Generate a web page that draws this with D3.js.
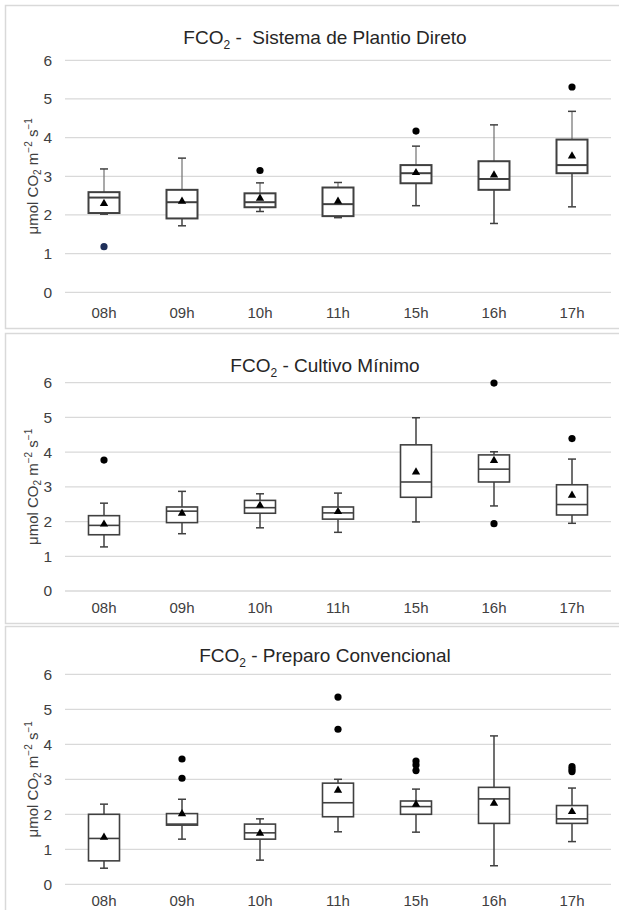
<!DOCTYPE html>
<html>
<head>
<meta charset="utf-8">
<script src="https://cdn.jsdelivr.net/npm/d3@7"></script>
<style>
  body { margin: 0; background: #fff; }
  text { font-family: "Liberation Sans", Arial, sans-serif; }
</style>
</head>
<body>
<script>
// categories
const hours = ['08h', '09h', '10h', '11h', '15h', '16h', '17h']
const yTicks = [0, 1, 2, 3, 4, 5, 6]

// each row: [whisker low, Q1, median, Q3, whisker high, mean]
const spdStats = [
  [2.02, 2.05, 2.45, 2.59, 3.19, 2.28],
  [1.72, 1.91, 2.33, 2.65, 3.47, 2.34],
  [2.09, 2.20, 2.33, 2.56, 2.83, 2.42],
  [1.93, 1.97, 2.28, 2.71, 2.84, 2.34],
  [2.24, 2.82, 3.08, 3.29, 3.78, 3.08],
  [1.78, 2.65, 2.93, 3.39, 4.33, 3.02],
  [2.21, 3.08, 3.29, 3.95, 4.68, 3.51]
]
const spdOutliers = [[1.18], [], [3.15], [], [4.17], [], [5.31]]

const cmStats = [
  [1.27, 1.62, 1.89, 2.17, 2.53, 1.91],
  [1.65, 1.97, 2.30, 2.42, 2.87, 2.22],
  [1.82, 2.24, 2.40, 2.61, 2.80, 2.45],
  [1.69, 2.07, 2.25, 2.42, 2.82, 2.27],
  [1.99, 2.70, 3.14, 4.21, 4.99, 3.41],
  [2.45, 3.14, 3.51, 3.92, 4.01, 3.74],
  [1.95, 2.19, 2.49, 3.06, 3.80, 2.74]
]
const cmOutliers = [[3.77], [], [], [], [], [5.99, 1.94], [4.39]]

const pcStats = [
  [0.46, 0.67, 1.31, 2.00, 2.29, 1.33],
  [1.29, 1.69, 1.72, 2.02, 2.43, 2.00],
  [0.69, 1.29, 1.47, 1.72, 1.87, 1.44],
  [1.50, 1.93, 2.33, 2.89, 3.00, 2.67],
  [1.49, 2.00, 2.22, 2.38, 2.72, 2.27],
  [0.53, 1.74, 2.44, 2.77, 4.24, 2.30],
  [1.22, 1.74, 1.87, 2.25, 2.75, 2.06]
]
const pcOutliers = [[], [3.58, 3.03], [], [5.35, 4.43], [3.52, 3.41, 3.25], [], [3.36, 3.29, 3.22]]

const panels = [
  { name: 'Sistema de Plantio Direto', sep: ' -  ', stats: spdStats, out: spdOutliers,
    top: 5, h: 323, y6: 60.3, y0: 292.3, titleY: 44, labY: 318, thick: 2 },
  { name: 'Cultivo Mínimo', sep: ' - ', stats: cmStats, out: cmOutliers,
    top: 333, h: 290, y6: 382.7, y0: 591, titleY: 372, labY: 613, thick: 1.6 },
  { name: 'Preparo Convencional', sep: ' - ', stats: pcStats, out: pcOutliers,
    top: 626, h: 300, y6: 674.3, y0: 884.3, titleY: 662, labY: 906, thick: 1.6 }
]

const W = 619, H = 910
const svg = d3.select('body').append('svg')
  .attr('width', W).attr('height', H)

const x = d3.scaleBand().domain(hours).range([65, 611])

panels.forEach((p, pi) => {
  const g = svg.append('g')

  // panel frame
  g.append('rect')
    .attr('x', 5.5).attr('y', p.top + 0.5)
    .attr('width', 640).attr('height', p.h)
    .attr('fill', '#fff').attr('stroke', '#d9d9d9').attr('stroke-width', 1.5)

  const y = d3.scaleLinear().domain([0, 6]).range([p.y0, p.y6])

  // gridlines
  g.selectAll('.grid').data(yTicks).enter().append('line')
    .attr('x1', 65).attr('x2', 611)
    .attr('y1', d => y(d)).attr('y2', d => y(d))
    .attr('stroke', '#d9d9d9').attr('stroke-width', 1.3)

  // y axis labels
  const yAxis = d3.axisLeft(y).tickValues(yTicks).tickFormat(d3.format('d')).tickSize(0).tickPadding(8)
  const ya = g.append('g').attr('transform', 'translate(60,0)').call(yAxis)
  ya.select('.domain').remove()
  ya.selectAll('text').attr('font-size', 15.5).attr('fill', '#404040')
    .style('font-family', '"Liberation Sans", Arial, sans-serif')

  // x labels
  g.selectAll('.xl').data(hours).enter().append('text')
    .attr('x', d => x(d) + x.bandwidth() / 2)
    .attr('y', p.labY)
    .attr('text-anchor', 'middle')
    .attr('font-size', 15).attr('fill', '#404040')
    .text(d => d)

  // title
  const t = g.append('text')
    .attr('x', 325).attr('y', p.titleY)
    .attr('text-anchor', 'middle')
    .style('white-space', 'pre')
    .attr('font-size', 19).attr('fill', '#262626')
  t.append('tspan').text('FCO')
  t.append('tspan').attr('font-size', 12).attr('dy', 5).text('2')
  t.append('tspan').attr('dy', -5).text(p.sep + p.name)

  // y axis title
  const yt = g.append('text')
    .attr('transform', `translate(38,${(p.y0 + p.y6) / 2}) rotate(-90)`)
    .attr('text-anchor', 'middle')
    .attr('font-size', 15).attr('fill', '#404040')
  yt.append('tspan').text('μmol CO')
  yt.append('tspan').attr('font-size', 10).attr('dy', 3).text('2')
  yt.append('tspan').attr('dy', -3).text(' m')
  yt.append('tspan').attr('font-size', 10).attr('dy', -6).text('−2')
  yt.append('tspan').attr('dy', 6).text(' s')
  yt.append('tspan').attr('font-size', 10).attr('dy', -6).text('−1')

  const bw = 31, cap = 8
  const boxes = g.selectAll('.box').data(p.stats).enter().append('g')
    .attr('transform', (d, i) => `translate(${x(hours[i]) + x.bandwidth() / 2},0)`)

  const stroke = '#404040'
  // whiskers
  boxes.append('line')
    .attr('x1', 0).attr('x2', 0)
    .attr('y1', d => y(d[3])).attr('y2', d => y(d[4]))
    .attr('stroke', pi === 0 ? '#707070' : stroke).attr('stroke-width', pi === 0 ? 1.2 : 1.5)
  boxes.append('line')
    .attr('x1', -cap / 2).attr('x2', cap / 2)
    .attr('y1', d => y(d[4])).attr('y2', d => y(d[4]))
    .attr('stroke', stroke).attr('stroke-width', 1.5)
  boxes.append('line')
    .attr('x1', 0).attr('x2', 0)
    .attr('y1', d => y(d[1])).attr('y2', d => y(d[0]))
    .attr('stroke', stroke).attr('stroke-width', 1.5)
  boxes.append('line')
    .attr('x1', -cap / 2).attr('x2', cap / 2)
    .attr('y1', d => y(d[0])).attr('y2', d => y(d[0]))
    .attr('stroke', stroke).attr('stroke-width', 1.5)

  // box
  boxes.append('rect')
    .attr('x', -bw / 2).attr('width', bw)
    .attr('y', d => y(d[3])).attr('height', d => y(d[1]) - y(d[3]))
    .attr('fill', '#fff').attr('stroke', stroke).attr('stroke-width', p.thick)
  // median
  boxes.append('line')
    .attr('x1', -bw / 2).attr('x2', bw / 2)
    .attr('y1', d => y(d[2])).attr('y2', d => y(d[2]))
    .attr('stroke', stroke).attr('stroke-width', p.thick)
  // mean
  boxes.append('path')
    .attr('d', d3.symbol().type(d3.symbolTriangle).size(30))
    .attr('transform', d => `translate(0,${y(d[5]) - 0.5})`)
    .attr('fill', '#000')

  // outliers
  boxes.each(function (d, i) {
    d3.select(this).selectAll('circle').data(p.out[i]).enter().append('circle')
      .attr('cx', 0).attr('cy', v => y(v)).attr('r', 3.6)
      .attr('fill', (pi === 0 && i === 0) ? '#1f2f5a' : '#000')
  })
})
</script>
</body>
</html>
